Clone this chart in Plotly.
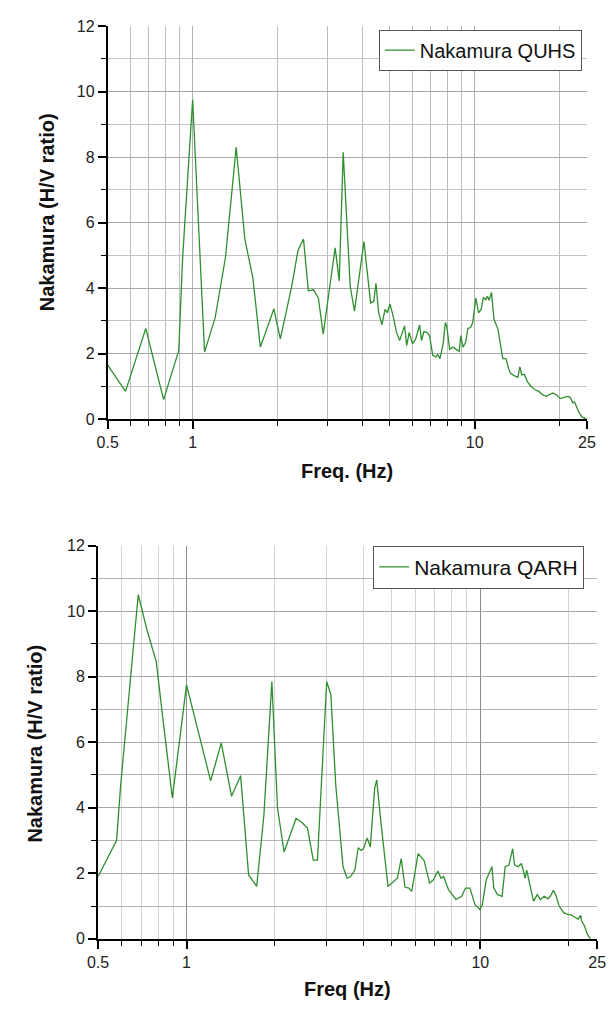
import math
import plotly.graph_objects as go

# ---------------- data ----------------
freq_quhs = [0.5, 0.578, 0.682, 0.789, 0.893, 0.921, 1.0, 1.102, 1.202, 1.308, 1.427, 1.531, 1.636,
             1.738, 1.941, 2.046, 2.244, 2.364, 2.472, 2.572, 2.684, 2.791, 2.904, 3.2, 3.31, 3.418,
             3.62, 3.748, 4.05, 4.276, 4.39, 4.467, 4.566, 4.69, 4.81, 4.9, 5.01, 5.14, 5.28, 5.42,
             5.64, 5.74, 5.86, 6.02, 6.18, 6.38, 6.48, 6.6, 6.78, 6.92, 7.1, 7.29, 7.39, 7.53, 7.73,
             7.87, 7.96, 8.15, 8.37, 8.59, 8.81, 8.93, 9.09, 9.29, 9.46, 9.67, 9.84, 10.1, 10.32,
             10.54, 10.74, 10.94, 11.1, 11.25, 11.47, 11.71, 12.09, 12.58, 12.9, 13.19, 13.39, 13.8,
             14.23, 14.46, 14.69, 15.0, 15.37, 15.85, 16.36, 16.88, 17.4, 17.95, 18.5, 18.9, 19.5,
             20.1, 20.75, 21.41, 21.8, 22.3, 22.6, 23.3, 24.0, 25.0]
hv_quhs = [1.65, 0.85, 2.77, 0.6, 2.1, 4.9, 9.75, 2.05, 3.1, 4.95, 8.3, 5.5, 4.3,
           2.2, 3.37, 2.45, 4.05, 5.15, 5.5, 3.92, 3.95, 3.7, 2.6, 5.23, 4.22, 8.15,
           4.05, 3.3, 5.42, 3.55, 3.6, 4.15, 3.25, 2.88, 3.35, 3.25, 3.52, 3.15, 2.65, 2.4,
           2.85, 2.25, 2.65, 2.3, 2.45, 2.88, 2.4, 2.67, 2.65, 2.55, 1.95, 1.9, 1.97, 1.85, 2.3,
           2.95, 2.85, 2.13, 2.2, 2.13, 2.07, 2.55, 2.2, 2.35, 2.77, 2.8, 2.95, 3.7, 3.25,
           3.35, 3.72, 3.65, 3.75, 3.63, 3.87, 3.05, 2.75, 1.85, 1.85, 1.55, 1.4, 1.33,
           1.28, 1.6, 1.35, 1.37, 1.15, 1.0, 0.9, 0.85, 0.75, 0.7, 0.77, 0.8, 0.75,
           0.63, 0.67, 0.7, 0.67, 0.5, 0.53, 0.25, 0.07, 0.0]

freq_qarh = [0.5, 0.578, 0.597, 0.685, 0.735, 0.789, 0.834, 0.895, 1.0, 1.1, 1.208, 1.313, 1.423,
             1.528, 1.627, 1.733, 1.833, 1.952, 2.04, 2.148, 2.36, 2.47, 2.58, 2.7, 2.79, 3.0,
             3.1, 3.22, 3.41, 3.52, 3.62, 3.74, 3.84, 3.93, 4.0, 4.12, 4.22, 4.37, 4.44, 4.57,
             4.85, 5.07, 5.22, 5.38, 5.54, 5.71, 5.84, 6.14, 6.43, 6.72, 6.92, 7.17, 7.34, 7.5,
             7.79, 8.02, 8.26, 8.64, 8.9, 9.22, 9.58, 9.96, 10.16, 10.47, 10.78, 10.95, 11.11,
             11.44, 11.86, 12.15, 12.51, 12.88, 13.08, 13.46, 13.8, 14.21, 14.38, 15.17, 15.63,
             16.0, 16.5, 16.98, 17.3, 17.74, 18.13, 18.55, 19.2, 19.8, 20.4, 21.0, 21.5, 21.97,
             22.1, 22.6, 23.1, 23.7]
hv_qarh = [1.9, 3.0, 4.7, 10.5, 9.4, 8.45, 6.6, 4.3, 7.75, 6.3, 4.82, 5.98, 4.35,
           4.98, 1.95, 1.6, 3.75, 7.85, 4.0, 2.65, 3.68, 3.55, 3.38, 2.4, 2.4, 7.85,
           7.45, 4.7, 2.2, 1.85, 1.9, 2.1, 2.78, 2.7, 2.75, 3.08, 2.8, 4.6, 4.85, 3.7,
           1.6, 1.75, 1.85, 2.45, 1.58, 1.55, 1.45, 2.6, 2.4, 1.7, 1.8, 2.07, 1.85, 1.9,
           1.5, 1.35, 1.2, 1.3, 1.55, 1.55, 1.05, 0.9, 1.05, 1.8, 2.05, 2.2, 1.55,
           1.35, 1.3, 2.2, 2.25, 2.75, 2.25, 2.2, 2.3, 1.85, 2.1, 1.15, 1.35,
           1.2, 1.3, 1.22, 1.3, 1.48, 1.3, 1.0, 0.8, 0.75, 0.73, 0.65, 0.6, 0.72,
           0.55, 0.4, 0.15, 0.0]

x_tick_vals = [0.5, 1, 10, 25]
x_tick_text = ["0.5", "1", "10", "25"]
x_minor_vals = [0.6, 0.7, 0.8, 0.9, 2, 3, 4, 5, 6, 7, 8, 9, 20]
y_tick_vals = [0, 2, 4, 6, 8, 10, 12]

series_names = ["Nakamura QUHS", "Nakamura QARH"]
x_titles = ["Freq. (Hz)", "Freq (Hz)"]
y_title = "Nakamura (H/V ratio)"

# ---------------- styling ----------------
FONT = "Liberation Sans, Arial, sans-serif"
W, H = 614, 1009
LINE_COLOR = "#2f8f2f"


def px_x(p):
    return p / W


def px_y(p):
    return 1 - p / H


def make_x(domain, anchor, major_grid, minor_grid):
    return dict(
        type="log", domain=domain, anchor=anchor,
        range=[math.log10(0.5), math.log10(25)],
        tickmode="array", tickvals=x_tick_vals, ticktext=x_tick_text,
        ticks="outside", ticklen=8, tickwidth=1.5, tickcolor="black",
        showline=True, linecolor="black", linewidth=2,
        showgrid=True, gridcolor=major_grid, gridwidth=1,
        minor=dict(tickmode="array", tickvals=x_minor_vals, ticks="outside",
                   ticklen=5, tickwidth=1, tickcolor="black",
                   showgrid=True, gridcolor=minor_grid, gridwidth=1),
        tickfont=dict(family=FONT, size=16, color="#222"),
        zeroline=False,
    )


def make_y(domain, anchor, major_grid, minor_grid):
    return dict(
        domain=domain, anchor=anchor, range=[0, 12],
        tickmode="array", tickvals=y_tick_vals,
        ticks="outside", ticklen=8, tickwidth=1.5, tickcolor="black",
        showline=True, linecolor="black", linewidth=2,
        showgrid=True, gridcolor=major_grid, gridwidth=1,
        minor=dict(dtick=1, ticks="outside", ticklen=5, tickwidth=1, tickcolor="black",
                   showgrid=True, gridcolor=minor_grid, gridwidth=1),
        tickfont=dict(family=FONT, size=16, color="#222"),
        zeroline=False,
    )


fig = go.Figure()
fig.add_trace(go.Scatter(x=freq_quhs, y=hv_quhs, mode="lines", name=series_names[0],
                         line=dict(color=LINE_COLOR, width=1.3),
                         xaxis="x", yaxis="y", legend="legend"))
fig.add_trace(go.Scatter(x=freq_qarh, y=hv_qarh, mode="lines", name=series_names[1],
                         line=dict(color=LINE_COLOR, width=1.3),
                         xaxis="x2", yaxis="y2", legend="legend2"))

top_x = [px_x(100), px_x(595.3)]
top_y = [px_y(418.3), px_y(18.3)]
bot_x = [px_x(90), px_x(606)]
bot_y = [px_y(946.8), px_y(546.8)]

fig.update_layout(
    width=W, height=H,
    margin=dict(l=0, r=0, t=0, b=0),
    paper_bgcolor="white", plot_bgcolor="white",
    font=dict(family=FONT, color="#222"),
    xaxis=make_x(top_x, "y", "#b0b0b0", "#bdbdbd"),
    yaxis=make_y(top_y, "x", "#a8a8a8", "#c4c4c4"),
    xaxis2=make_x(bot_x, "y2", "#8c8c8c", "#d4d4d4"),
    yaxis2=make_y(bot_y, "x2", "#a8a8a8", "#b4b4b4"),
    legend=dict(x=px_x(590), xanchor="right", y=px_y(22), yanchor="top",
                bgcolor="white", bordercolor="#555", borderwidth=1,
                font=dict(family=FONT, size=20, color="#111")),
    legend2=dict(x=px_x(592.5), xanchor="right", y=px_y(547), yanchor="top",
                 bgcolor="white", bordercolor="#555", borderwidth=1,
                 font=dict(family=FONT, size=21, color="#111")),
    showlegend=True,
    annotations=[
        dict(text="<b>%s</b>" % x_titles[0], x=px_x(347.7), y=px_y(471), xref="paper", yref="paper",
             xanchor="center", yanchor="middle", showarrow=False,
             font=dict(family=FONT, size=20, color="#111")),
        dict(text="<b>%s</b>" % x_titles[1], x=px_x(348), y=px_y(998), xref="paper", yref="paper",
             xanchor="center", yanchor="middle", showarrow=False,
             font=dict(family=FONT, size=20, color="#111")),
        dict(text="<b>%s</b>" % y_title, x=px_x(38), y=px_y(208), xref="paper", yref="paper",
             xanchor="center", yanchor="middle", showarrow=False, textangle=-90,
             font=dict(family=FONT, size=20, color="#111")),
        dict(text="<b>%s</b>" % y_title, x=px_x(25), y=px_y(748), xref="paper", yref="paper",
             xanchor="center", yanchor="middle", showarrow=False, textangle=-90,
             font=dict(family=FONT, size=20, color="#111")),
    ],
)

fig.write_html("out.html",
               config={"displayModeBar": False},
               post_script="document.body.style.margin='0';document.body.style.overflow='hidden';")
